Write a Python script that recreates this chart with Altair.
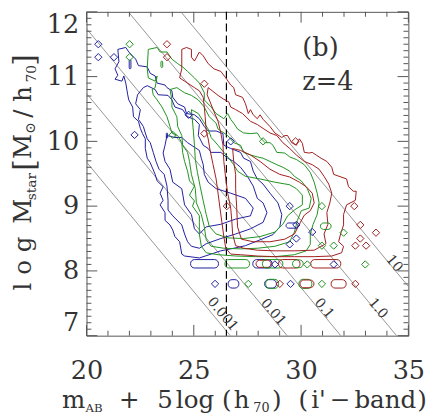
import altair as alt
import pandas as pd

W, H = 328, 330
FONT = "DejaVu Serif"
TXT = "#333333"

# ---------------- data (m_AB + 5log h , log M_star) ----------------
blue_outer = [(21.46, 11.42), (21.83, 11.45), (21.97, 11.38), (22.29, 11.27), (22.42, 11.17), (22.83, 11.15),
              (22.97, 11.05), (23.20, 11.01), (23.29, 10.90), (23.66, 10.87), (23.75, 10.83), (23.98, 10.78),
              (24.02, 10.68), (24.25, 10.58), (24.57, 10.53), (24.66, 10.43), (25.03, 10.41), (25.26, 10.35),
              (25.49, 10.23), (25.67, 10.16), (26.04, 10.16), (26.36, 10.12), (26.40, 9.94), (26.72, 9.89),
              (27.18, 9.83), (27.32, 9.74), (27.64, 9.69), (27.77, 9.54), (27.96, 9.42), (28.23, 9.34),
              (28.55, 9.20), (28.92, 9.05), (29.10, 8.87), (29.01, 8.68), (28.69, 8.56), (28.09, 8.48),
              (27.41, 8.39), (26.86, 8.35), (26.26, 8.31), (25.81, 8.26), (25.26, 8.20), (24.57, 8.23),
              (24.44, 8.26), (24.34, 8.45), (24.12, 8.53), (24.02, 8.63), (23.89, 8.71), (23.66, 8.78),
              (23.66, 8.90), (23.43, 9.02), (23.57, 9.09), (23.43, 9.20), (23.57, 9.30), (23.29, 9.39),
              (23.20, 9.49), (22.97, 9.67), (22.83, 9.74), (22.74, 9.89), (22.74, 10.04), (22.61, 10.12),
              (22.51, 10.20), (22.42, 10.31), (22.19, 10.38), (22.15, 10.53), (21.97, 10.64), (21.92, 10.72),
              (21.83, 10.90), (21.74, 11.01), (21.65, 10.93), (21.33, 10.96), (21.46, 11.02), (21.33, 11.12),
              (21.51, 11.23)]
blue_mid = [(22.83, 10.86), (23.20, 10.80), (23.34, 10.72), (23.80, 10.71), (23.98, 10.64), (24.12, 10.53),
            (24.48, 10.49), (24.71, 10.38), (25.03, 10.34), (25.26, 10.26), (25.21, 10.09), (25.44, 9.94),
            (25.67, 9.89), (25.81, 9.83), (26.26, 9.83), (26.58, 9.74), (26.86, 9.69), (27.18, 9.60),
            (27.50, 9.46), (27.77, 9.31), (27.96, 9.12), (28.23, 9.05), (28.41, 8.90), (28.23, 8.75),
            (27.64, 8.65), (26.95, 8.57), (26.26, 8.50), (25.58, 8.42), (25.26, 8.35), (24.89, 8.38),
            (24.71, 8.45), (24.57, 8.57), (24.44, 8.71), (24.02, 8.85), (23.80, 8.94), (23.80, 9.09),
            (23.75, 9.31), (23.62, 9.49), (23.38, 9.57), (23.24, 9.69), (23.11, 9.83), (22.97, 9.98),
            (22.83, 10.04), (22.74, 10.13), (22.65, 10.23), (22.42, 10.34), (22.51, 10.49), (22.29, 10.58),
            (22.38, 10.72), (22.65, 10.83)]
blue_in = [(23.75, 10.09), (24.12, 10.06), (24.44, 10.06), (24.71, 9.98), (25.26, 9.86), (25.35, 9.74),
           (25.44, 9.64), (25.49, 9.49), (25.67, 9.37), (26.04, 9.27), (26.72, 9.20), (27.41, 9.12),
           (27.77, 8.97), (27.64, 8.85), (26.95, 8.80), (26.26, 8.72), (25.58, 8.68), (25.26, 8.57),
           (25.03, 8.65), (24.89, 8.87), (24.57, 9.02), (24.44, 9.27), (24.02, 9.37), (23.89, 9.57),
           (23.66, 9.69), (23.57, 9.82), (23.66, 9.94)]

green_outer = [(22.88, 11.42), (23.29, 11.45), (23.43, 11.38), (23.75, 11.38), (23.98, 11.27), (24.25, 11.20),
               (24.48, 11.15), (24.71, 11.08), (25.03, 10.98), (25.26, 10.90), (25.49, 10.75), (25.49, 10.64),
               (25.81, 10.53), (26.04, 10.43), (26.40, 10.35), (26.58, 10.43), (26.72, 10.34), (26.86, 10.28),
               (27.04, 10.19), (27.32, 10.13), (27.64, 10.12), (27.96, 10.13), (28.09, 10.06), (28.32, 9.98),
               (28.55, 9.98), (28.69, 9.94), (28.87, 9.83), (29.24, 9.82), (29.47, 9.76), (29.78, 9.72),
               (30.15, 9.64), (30.43, 9.52), (30.61, 9.37), (30.75, 9.20), (30.84, 9.05), (30.75, 8.87),
               (30.56, 8.72), (30.43, 8.57), (30.43, 8.41), (30.24, 8.31), (29.69, 8.25), (28.78, 8.22),
               (27.86, 8.22), (26.95, 8.23), (26.13, 8.25), (25.58, 8.28), (25.35, 8.38), (25.26, 8.57),
               (25.26, 8.75), (25.26, 8.85), (24.94, 9.00), (25.03, 9.08), (24.80, 9.17), (25.03, 9.31),
               (24.80, 9.39), (24.71, 9.54), (24.57, 9.69), (24.48, 9.83), (24.44, 9.98), (24.25, 10.09),
               (23.98, 10.13), (23.89, 10.23), (23.75, 10.38), (23.52, 10.53), (23.29, 10.64), (23.11, 10.72),
               (23.06, 10.80), (23.20, 10.83), (23.29, 11.01), (23.20, 10.93), (22.88, 10.98), (22.83, 11.12)]
green_mid = [(23.89, 10.80), (24.21, 10.83), (24.57, 10.75), (24.89, 10.71), (25.21, 10.64), (25.49, 10.53),
             (25.72, 10.38), (26.04, 10.28), (26.13, 10.19), (26.58, 10.09), (26.86, 9.98), (27.18, 9.94),
             (27.32, 9.83), (27.64, 9.79), (27.96, 9.76), (28.23, 9.74), (28.55, 9.69), (28.87, 9.64),
             (29.15, 9.60), (29.47, 9.54), (29.69, 9.46), (30.01, 9.39), (30.29, 9.27), (30.47, 9.12),
             (30.38, 8.97), (30.01, 8.93), (29.83, 8.78), (29.69, 8.60), (29.47, 8.45), (28.78, 8.38),
             (27.96, 8.35), (27.18, 8.34), (26.40, 8.35), (25.81, 8.38), (25.58, 8.48), (25.49, 8.68),
             (25.35, 8.87), (25.12, 9.05), (25.07, 9.27), (24.89, 9.49), (24.80, 9.69), (24.71, 9.83),
             (24.48, 9.94), (24.44, 10.09), (24.25, 10.23), (24.21, 10.38), (23.98, 10.53), (23.98, 10.64)]
green_in = [(24.89, 10.49), (25.21, 10.43), (25.44, 10.31), (25.67, 10.19), (25.81, 10.06), (26.13, 9.94),
            (26.40, 9.83), (26.63, 9.74), (26.86, 9.64), (27.04, 9.54), (27.41, 9.46), (28.09, 9.42),
            (28.78, 9.37), (29.47, 9.33), (29.78, 9.27), (30.06, 9.17), (30.06, 9.02), (29.69, 8.94),
            (29.37, 8.85), (29.15, 8.72), (28.78, 8.60), (28.09, 8.53), (27.32, 8.50), (26.58, 8.51),
            (26.04, 8.57), (25.72, 8.69), (25.58, 8.87), (25.44, 9.08), (25.30, 9.30), (25.17, 9.52),
            (25.07, 9.72), (25.03, 9.94), (24.98, 10.16)]

red_outer = [(24.44, 11.42), (24.66, 11.45), (24.89, 11.42), (24.89, 11.30), (25.03, 11.24), (25.26, 11.38),
             (25.44, 11.32), (25.67, 11.20), (25.94, 11.12), (26.26, 11.08), (26.49, 10.98), (26.72, 10.87),
             (26.86, 10.83), (26.95, 10.72), (27.27, 10.68), (27.41, 10.58), (27.54, 10.43), (27.64, 10.49),
             (27.77, 10.41), (27.96, 10.35), (28.09, 10.41), (28.23, 10.34), (28.55, 10.23), (28.78, 10.13),
             (29.10, 10.06), (29.24, 10.09), (29.37, 10.09), (29.56, 9.98), (29.78, 9.94), (29.92, 10.04),
             (30.06, 9.97), (30.15, 9.83), (30.38, 9.82), (30.52, 9.83), (30.70, 9.79), (30.93, 9.74),
             (31.20, 9.69), (31.43, 9.60), (31.52, 9.49), (32.12, 9.42), (32.21, 9.30), (32.44, 9.23),
             (32.57, 9.23), (32.53, 9.09), (32.12, 9.02), (31.98, 8.87), (31.98, 8.71), (31.84, 8.57),
             (31.75, 8.45), (31.98, 8.38), (31.89, 8.28), (31.43, 8.23), (30.61, 8.22), (29.69, 8.22),
             (28.78, 8.22), (27.96, 8.23), (27.18, 8.25), (26.72, 8.26), (26.49, 8.35), (26.40, 8.53),
             (26.31, 8.75), (26.22, 8.97), (26.13, 9.20), (26.04, 9.42), (25.90, 9.64), (25.76, 9.86),
             (25.67, 10.04), (25.58, 10.16), (25.53, 10.38), (25.49, 10.53), (25.44, 10.68), (25.26, 10.78),
             (25.03, 10.83), (24.71, 10.90), (24.57, 10.93), (24.34, 10.98), (24.44, 11.12)]
red_mid = [(25.67, 10.83), (26.13, 10.71), (26.40, 10.65), (26.63, 10.61), (26.72, 10.53), (26.95, 10.49),
           (27.27, 10.43), (27.64, 10.31), (27.96, 10.26), (28.23, 10.20), (28.55, 10.13), (28.87, 10.09),
           (29.15, 9.98), (29.47, 9.89), (29.78, 9.79), (30.15, 9.69), (30.52, 9.64), (30.84, 9.57),
           (31.07, 9.46), (31.29, 9.34), (31.43, 9.20), (31.34, 9.05), (31.20, 8.90), (31.25, 8.72),
           (31.07, 8.57), (31.16, 8.42), (30.61, 8.32), (29.69, 8.31), (28.78, 8.31), (27.96, 8.32),
           (27.32, 8.35), (26.95, 8.39), (26.81, 8.57), (26.77, 8.78), (26.72, 8.97), (26.58, 9.20),
           (26.49, 9.42), (26.40, 9.69), (26.36, 9.94), (26.26, 10.13), (26.13, 10.31), (25.94, 10.46),
           (25.76, 10.61), (25.62, 10.72)]
red_in = [(26.81, 9.89), (27.18, 9.86), (27.64, 9.79), (28.09, 9.69), (28.55, 9.57), (29.01, 9.49),
          (29.47, 9.45), (29.92, 9.37), (30.24, 9.30), (30.52, 9.20), (30.61, 9.05), (30.43, 8.93),
          (30.15, 8.86), (29.92, 8.72), (29.69, 8.57), (29.24, 8.49), (28.55, 8.45), (27.77, 8.45),
          (27.22, 8.49), (27.04, 8.68), (27.00, 8.97), (26.95, 9.27), (26.95, 9.49), (26.86, 9.69)]

contours = [("blue", blue_outer), ("blue", blue_mid), ("blue", blue_in),
            ("green", green_outer), ("green", green_mid), ("green", green_in),
            ("red", red_outer), ("red", red_mid), ("red", red_in)]

# small closed contour islands: (population, x_left, x_right, y_low, y_high)
islands = [
    ("blue", 24.85, 26.15, 8.045, 8.175), ("green", 26.45, 27.60, 8.045, 8.175),
    ("blue", 27.75, 28.65, 8.045, 8.175), ("red", 27.90, 28.60, 8.055, 8.165),
    ("green", 28.20, 29.15, 8.045, 8.175), ("red", 28.95, 29.95, 8.045, 8.175),
    ("green", 29.60, 30.10, 8.050, 8.170), ("red", 30.45, 31.85, 8.045, 8.175),
    ("blue", 26.60, 27.10, 7.735, 7.865), ("blue", 28.30, 28.85, 7.735, 7.865),
    ("green", 28.35, 28.95, 7.730, 7.870), ("green", 29.90, 30.50, 7.730, 7.870),
    ("red", 29.95, 30.60, 7.740, 7.860), ("red", 31.40, 32.10, 7.735, 7.865),
    ("blue", 29.30, 29.85, 8.660, 8.740), ("green", 30.90, 31.40, 8.640, 8.740),
    ("blue", 21.99, 22.07, 11.12, 11.26), ("green", 23.47, 23.55, 11.14, 11.24),
    ("blue", 23.72, 23.78, 10.05, 10.13),
]

blue_pts = [(20.55, 11.50), (20.55, 11.30), (21.28, 11.30), (22.24, 10.10), (24.76, 10.41), (26.72, 10.00),
            (29.47, 9.00), (29.78, 8.71), (30.52, 8.60), (29.78, 8.50), (29.47, 8.41), (28.78, 8.10),
            (31.52, 8.10), (25.99, 7.80), (29.51, 7.80)]
green_pts = [(22.01, 11.50), (22.01, 11.30), (24.02, 10.10), (28.23, 10.00), (30.97, 9.00), (31.98, 8.59),
             (30.97, 8.39), (31.52, 8.39), (30.29, 8.10), (32.99, 8.10), (27.54, 7.80), (30.97, 7.80)]
red_pts = [(23.75, 11.50), (23.75, 11.30), (25.49, 10.89), (25.49, 10.12), (29.74, 10.00), (26.54, 9.00),
           (32.48, 9.00), (32.76, 8.71), (33.49, 8.59), (32.76, 8.50), (32.53, 8.39), (33.03, 8.39),
           (29.01, 7.80), (32.53, 7.80)]

# lines of constant ratio: magnitude where each line meets log M = 7, slope dlogM/dm = -0.4
ratio_labels = ["0.001", "0.01", "0.1", "1.0", "10"]
ratio_m_at_7 = [26.70, 29.35, 31.85, 34.45, 36.90]
ratio_label_x = [26.34, 28.70, 31.07, 33.58, 34.34]
ratio_label_y = [7.33, 7.36, 7.42, 7.42, 8.11]

mag_limit = 26.52

x_major = [20, 25, 30, 35]
x_minor = [v for v in range(20, 36) if v not in x_major]
y_major = [7, 8, 9, 10, 11, 12]
y_minor = [round(7 + i / 10, 1) for i in range(1, 50) if i % 10]

# ---------------- build ----------------
POP = ["blue", "green", "red"]
POP_HEX = ["#1e1e9e", "#1f921f", "#a01c1c"]
pop_scale = alt.Scale(domain=POP, range=POP_HEX)
xs = alt.Scale(domain=[20, 35], nice=False, zero=False)
ys = alt.Scale(domain=[7, 12], nice=False, zero=False)

x_axis = alt.Axis(title=None, values=x_major, ticks=False, domain=False, grid=False, labelFont=FONT,
                  labelFontSize=26, labelColor=TXT, labelPadding=23, labelFlush=False, format="d",
                  labelOverlap=False)
y_axis = alt.Axis(title=None, values=y_major, ticks=False, domain=False, grid=False, labelFont=FONT,
                  labelFontSize=26, labelColor=TXT, labelPadding=8, labelFlush=True, format="d",
                  labelOverlap=False)


def X(f):
    return alt.X(f, scale=xs, axis=x_axis)


def Y(f):
    return alt.Y(f, scale=ys, axis=y_axis)


rows = []
for cid, (pop, pts) in enumerate(contours):
    for i, (x, y) in enumerate(pts + [pts[0]]):
        rows.append({"cid": cid, "pop": pop, "o": i, "x": x, "y": y})
cont_df = pd.DataFrame(rows)

isl_df = pd.DataFrame(islands, columns=["pop", "x1", "x2", "y1", "y2"])

pt_rows = []
for pop, pts in (("blue", blue_pts), ("green", green_pts), ("red", red_pts)):
    for x, y in pts:
        pt_rows.append({"pop": pop, "x": x, "y": y})
pt_df = pd.DataFrame(pt_rows)

line_rows = []
for lid, m7 in enumerate(ratio_m_at_7):
    line_rows.append({"lid": lid, "x": m7 - (12 - 7) / 0.4, "y": 12.0})
    line_rows.append({"lid": lid, "x": m7, "y": 7.0})
line_df = pd.DataFrame(line_rows)
lab_df = pd.DataFrame({"t": ratio_labels, "x": ratio_label_x, "y": ratio_label_y})

layers = []
layers.append(alt.Chart(line_df).mark_line(color="#7a7a7a", strokeWidth=0.8, clip=True).encode(
    x=X("x:Q"), y=Y("y:Q"), detail="lid:N"))
layers.append(alt.Chart(pd.DataFrame({"m": [mag_limit]})).mark_rule(
    color="#000000", strokeWidth=1.2, strokeDash=[8, 4]).encode(x=X("m:Q")))
layers.append(alt.Chart(cont_df).mark_line(strokeWidth=1, clip=True).encode(
    x=X("x:Q"), y=Y("y:Q"), detail="cid:N", order="o:Q",
    color=alt.Color("pop:N", scale=pop_scale, legend=None)))
layers.append(alt.Chart(isl_df).mark_rect(fillOpacity=0, strokeWidth=1, cornerRadius=4).encode(
    x=X("x1:Q"), x2="x2:Q", y=Y("y1:Q"), y2="y2:Q",
    stroke=alt.Stroke("pop:N", scale=pop_scale, legend=None)))
layers.append(alt.Chart(pt_df).mark_point(shape="diamond", filled=False, size=55, strokeWidth=1, opacity=1).encode(
    x=X("x:Q"), y=Y("y:Q"), color=alt.Color("pop:N", scale=pop_scale, legend=None)))
layers.append(alt.Chart(lab_df).mark_text(font=FONT, fontSize=14, color=TXT, angle=50, align="center",
                                          baseline="middle").encode(
    x=X("x:Q"), y=Y("y:Q"), text="t:N"))


def xticks(vals, length, top):
    y0 = 0 if top else H
    y1 = length if top else H - length
    return alt.Chart(pd.DataFrame({"v": vals})).mark_rule(color="#555555", strokeWidth=1).encode(
        x=X("v:Q"), y=alt.value(y0), y2=alt.value(y1))


def yticks(vals, length, right):
    x0 = W if right else 0
    x1 = W - length if right else length
    return alt.Chart(pd.DataFrame({"v": vals})).mark_rule(color="#555555", strokeWidth=1).encode(
        y=Y("v:Q"), x=alt.value(x0), x2=alt.value(x1))


for top in (False, True):
    layers.append(xticks(x_major, 11, top))
    layers.append(xticks(x_minor, 5, top))
for right in (False, True):
    layers.append(yticks(y_major, 11, right))
    layers.append(yticks(y_minor, 5, right))

# panel annotations (data coordinates)
ann_df = pd.DataFrame({"t": ["(b)", "z=4"], "x": [30.06, 30.06], "y": [11.32, 10.80]})
layers.append(alt.Chart(ann_df).mark_text(font=FONT, fontSize=26, color=TXT, align="left",
                                          baseline="alphabetic").encode(
    x=X("x:Q"), y=Y("y:Q"), text="t:N"))

one = pd.DataFrame({"k": [0]})


def piece(txt, px, py, size, angle=0):
    return alt.Chart(one).mark_text(font=FONT, fontSize=size, color=TXT, align="left",
                                    baseline="alphabetic", angle=angle).encode(
        x=alt.value(px), y=alt.value(py), text=alt.value(txt))


# x-axis title: m_AB + 5log(h_70) (i'-band)
for txt, px, py, sz in [("m", -25, 404, 25), ("AB", -1, 408, 12), ("+", 33, 404, 25), ("5", 72, 404, 25),
                        ("log", 91, 404, 25), ("(", 138, 404, 25), ("h", 150, 404, 25),
                        ("70", 170, 408, 13), (")", 189, 404, 25), ("(", 216, 404, 25),
                        ("i'", 229, 404, 25), ("\u2212", 248, 404, 25),
                        ("band", 273, 404, 25), (")", 337, 404, 25)]:
    layers.append(piece(txt, px, py, sz))

# y-axis title: log M_star [M_sun/h_70]
for txt, px, py, sz in [("l", -57, 284, 25), ("o", -57, 268, 25), ("g", -57, 245, 25), ("M", -57, 216, 25),
                        ("star", -51, 192, 14), ("[", -53, 162, 30), ("M", -57, 150, 25),
                        ("\u2299", -52, 124, 14), ("/", -57, 108, 25), ("h", -57, 92, 25),
                        ("70", -51, 72, 14), ("]", -53, 55, 30)]:
    layers.append(piece(txt, px, py, sz, angle=270))

chart = alt.layer(*layers).properties(
    width=W, height=H,
    autosize=alt.AutoSizeParams(type="none"),
    padding={"left": 80, "top": 0, "right": 20, "bottom": 81},
).configure_view(stroke="#555555", strokeWidth=1)

chart.save("out.html", embed_options={"renderer": "svg", "actions": False})
